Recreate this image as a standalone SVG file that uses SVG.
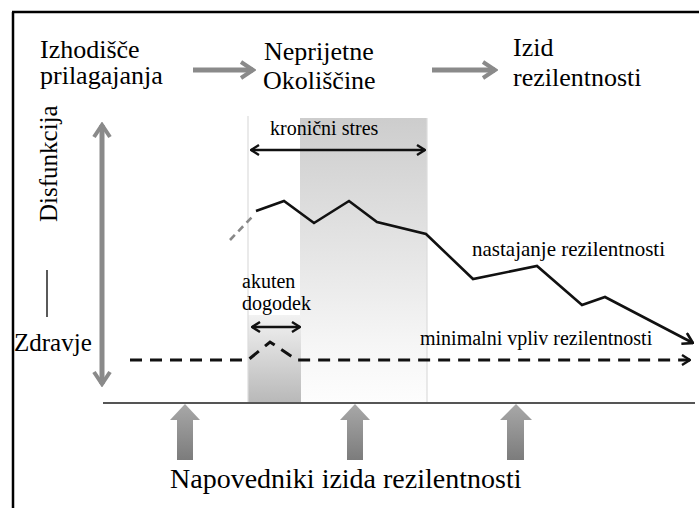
<svg xmlns="http://www.w3.org/2000/svg" width="699" height="508" viewBox="0 0 699 508">
<defs>
<style>
.gar{fill:none;stroke:#8a8a8a;stroke-width:5;stroke-linecap:butt}
.blk{fill:none;stroke:#111;stroke-width:2.6;stroke-linejoin:miter}
.dsh{fill:none;stroke:#111;stroke-width:3;stroke-dasharray:12 8}
.thin{stroke:#dcdcdc;stroke-width:1.2}
</style>
<linearGradient id="chron" x1="0" y1="0" x2="0" y2="1">
<stop offset="0" stop-color="#cdcdcd"/>
<stop offset="0.45" stop-color="#e4e4e4"/>
<stop offset="0.8" stop-color="#f6f6f6"/>
<stop offset="1" stop-color="#fdfdfd"/>
</linearGradient>
<linearGradient id="acute" x1="0" y1="0" x2="0" y2="1">
<stop offset="0" stop-color="#f2f2f2"/>
<stop offset="1" stop-color="#b8b8b8"/>
</linearGradient>
<linearGradient id="blockg" x1="0" y1="0" x2="0" y2="1">
<stop offset="0" stop-color="#a8a8a8"/>
<stop offset="1" stop-color="#7c7c7c"/>
</linearGradient>
<marker id="chev" viewBox="0 0 12 12" refX="11" refY="6" markerWidth="12" markerHeight="12" markerUnits="userSpaceOnUse" orient="auto-start-reverse">
<path d="M3,1 L11,6 L3,11" fill="none" stroke="#111" stroke-width="2.4"/>
</marker>
<marker id="chevB" viewBox="0 0 14 14" refX="13" refY="7" markerWidth="14" markerHeight="14" markerUnits="userSpaceOnUse" orient="auto-start-reverse">
<path d="M3,1 L13,7 L3,13" fill="none" stroke="#111" stroke-width="2.6"/>
</marker>
<marker id="gchev" viewBox="0 0 20 20" refX="17" refY="10" markerWidth="20" markerHeight="20" markerUnits="userSpaceOnUse" orient="auto-start-reverse">
<path d="M5,2 L17,10 L5,18" fill="none" stroke="#8a8a8a" stroke-width="4"/>
</marker>
</defs>
<rect width="699" height="508" fill="#fff"/>
<g id="frame">
<line x1="13" y1="12" x2="13" y2="508" stroke="#000" stroke-width="2.5"/>
<line x1="12" y1="12" x2="699" y2="12" stroke="#000" stroke-width="2.5"/>
</g>
<g id="shading">
<rect x="300" y="118" width="127" height="285" fill="url(#chron)"/>
<rect x="248" y="315" width="53" height="88" fill="url(#acute)"/>
<line class="thin" x1="248" y1="116" x2="248" y2="403"/>
<line class="thin" x1="427" y1="118" x2="427" y2="403"/>
</g>
<g id="stage-start">
<text x="40" y="58" font-size="26" font-family="Liberation Serif">Izhodišče</text>
<text x="40" y="84" font-size="26" font-family="Liberation Serif">prilagajanja</text>
</g>
<g id="stage-adverse">
<text x="264" y="60" font-size="26" font-family="Liberation Serif">Neprijetne</text>
<text x="263" y="89" font-size="26" font-family="Liberation Serif">Okoliščine</text>
</g>
<g id="stage-outcome">
<text x="513" y="56" font-size="26" font-family="Liberation Serif">Izid</text>
<text x="513" y="86" font-size="26" font-family="Liberation Serif">rezilentnosti</text>
</g>
<g id="axis-labels">
<text font-size="25" font-family="Liberation Serif" transform="translate(57,222) rotate(-90)">Disfunkcija</text>
<line x1="47" y1="270" x2="47" y2="317" stroke="#000" stroke-width="1.3"/>
<text x="14" y="351" font-size="25" font-family="Liberation Serif">Zdravje</text>
</g>
<g id="chronic-label">
<text x="270" y="135" font-size="20" font-family="Liberation Serif">kronični stres</text>
</g>
<g id="acute-label">
<text x="242" y="288" font-size="20" font-family="Liberation Serif">akuten</text>
<text x="242" y="310" font-size="20" font-family="Liberation Serif">dogodek</text>
</g>
<g id="resilience-label">
<text x="472" y="256" font-size="21" font-family="Liberation Serif">nastajanje rezilentnosti</text>
</g>
<g id="minimal-label">
<text x="420" y="345" font-size="20" font-family="Liberation Serif">minimalni vpliv rezilentnosti</text>
</g>
<g id="predictors-label">
<text x="170" y="488" font-size="28" font-family="Liberation Serif">Napovedniki izida rezilentnosti</text>
</g>
<g id="connectors">
<line class="gar" x1="193" y1="70" x2="253" y2="70" marker-end="url(#gchev)"/>
<line class="gar" x1="432" y1="70" x2="495" y2="70" marker-end="url(#gchev)"/>
<line class="gar" x1="102" y1="125" x2="102" y2="384" marker-start="url(#gchev)" marker-end="url(#gchev)"/>
<line x1="103" y1="403" x2="695" y2="403" stroke="#555" stroke-width="2.2"/>
<line class="blk" x1="251" y1="150" x2="425" y2="150" marker-start="url(#chev)" marker-end="url(#chev)"/>
<line class="blk" x1="252" y1="327" x2="300" y2="327" marker-start="url(#chev)" marker-end="url(#chev)"/>
<line x1="230" y1="240" x2="252" y2="217" stroke="#888" stroke-width="2.6" stroke-dasharray="7 5"/>
<polyline class="blk" points="256,211 284,201 314,223 349,201 377,222 426,234 473,279 537,266 582,305 605,297 693,343" marker-end="url(#chevB)"/>
<polyline class="dsh" points="130,360 248,360 270,342 297,360 690,360" marker-end="url(#chev)"/>
<path d="M177,460 V420 H170 L185,404 L200,420 H193 V460 Z" fill="url(#blockg)"/>
<path d="M347,460 V420 H340 L355,404 L370,420 H363 V460 Z" fill="url(#blockg)"/>
<path d="M507,460 V420 H500 L516,404 L532,420 H524 V460 Z" fill="url(#blockg)"/>
</g>
</svg>
